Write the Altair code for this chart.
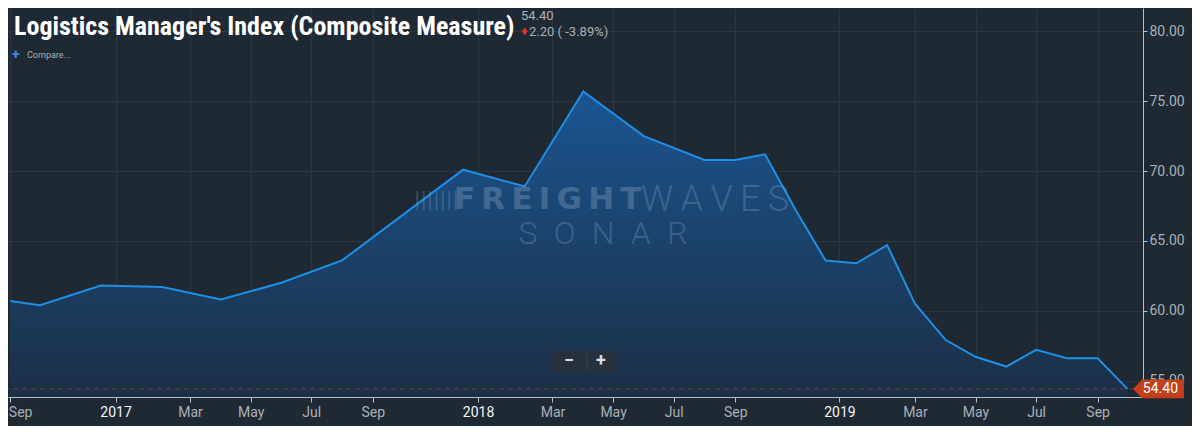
import json
import altair as alt
import pandas as pd

# ---------------- data ----------------
dates = [
    "2016-09-01", "2016-10-01", "2016-12-01", "2017-02-01", "2017-04-01",
    "2017-06-01", "2017-08-01", "2017-12-01", "2018-02-01", "2018-04-01",
    "2018-06-01", "2018-08-01", "2018-09-01", "2018-10-01", "2018-11-01",
    "2018-12-01", "2019-01-01", "2019-02-01", "2019-03-01", "2019-04-01",
    "2019-05-01", "2019-06-01", "2019-07-01", "2019-08-01", "2019-09-01",
    "2019-10-01",
]
values = [
    60.7, 60.4, 61.8, 61.7, 60.8,
    62.0, 63.6, 70.1, 68.9, 75.7,
    72.5, 70.8, 70.8, 71.2, 67.2,
    63.6, 63.4, 64.7, 60.5, 57.9,
    56.7, 56.0, 57.2, 56.6, 56.6,
    54.4,
]
tick_dates = [
    "2016-09-01", "2016-12-16", "2017-03-01", "2017-05-01", "2017-07-01",
    "2017-09-01", "2017-12-16", "2018-03-01", "2018-05-01", "2018-07-01",
    "2018-09-01", "2018-12-15", "2019-03-01", "2019-05-01", "2019-07-01",
    "2019-09-01",
]
tick_labels = [
    "Sep", "2017", "Mar", "May", "Jul",
    "Sep", "2018", "Mar", "May", "Jul",
    "Sep", "2019", "Mar", "May", "Jul",
    "Sep",
]
year_labels = ["2017", "2018", "2019"]
y_ticks = [55, 60, 65, 70, 75, 80]

title_text = "Logistics Manager's Index (Composite Measure)"
header_value = "54.40"
header_change = "2.20 ( -3.89%)"
compare_text = "Compare..."
last_label = "54.40"
wm_word1 = "FREIGHT"
wm_word2 = "WAVES"
wm_word3 = "SONAR"

# ---------------- style ----------------
BG = "#1f2933"
GRID = "#2a3642"
AXIS = "#b9bfc6"
LABEL = "#a9b0b8"
LINE = "#1f8fe5"
BADGE = "#c4401a"
W, H = 1135, 389
FONT = "Roboto"


def ms(d):
    return int(pd.Timestamp(d, tz="UTC").value // 10**6)


def spaced(word, sep):
    return sep.join(list(word))


tick_ms = [ms(d) for d in tick_dates]
year_ms = [ms(d) for d, l in zip(tick_dates, tick_labels) if l in year_labels]

x_domain = [
    alt.DateTime(year=2016, month=8, date=29, hours=16, utc=True),
    alt.DateTime(year=2019, month=10, date=16, hours=16, utc=True),
]
y_min, y_max = 53.82, 81.68

df = pd.DataFrame({"date": dates, "value": values})
last_df = df.tail(1)

label_expr = f"{json.dumps(tick_labels)}[indexof({json.dumps(tick_ms)}, +datum.value)]"
year_test = f"indexof({json.dumps(year_ms)}, +datum.value) >= 0"

x_enc = alt.X(
    "date:T",
    title=None,
    scale=alt.Scale(type="utc", domain=x_domain),
    axis=alt.Axis(
        values=tick_ms,
        labelExpr=label_expr,
        labelColor={"condition": {"test": year_test, "value": "#f2f4f6"}, "value": LABEL},
        labelFont=FONT,
        labelFontSize=14,
        labelPadding=3,
        labelFlush=5,
        labelFlushOffset=2,
        labelOverlap=False,
        domainColor=AXIS,
        domainWidth=1,
        tickColor=AXIS,
        tickSize=5,
        grid=True,
        gridColor=GRID,
        gridWidth=1,
    ),
)
y_enc = alt.Y(
    "value:Q",
    title=None,
    scale=alt.Scale(domain=[y_min, y_max], nice=False, zero=False),
    axis=alt.Axis(
        orient="right",
        values=y_ticks,
        format=".2f",
        labelFont=FONT,
        labelFontSize=14,
        labelColor=LABEL,
        labelPadding=2,
        labelFlush=False,
        domainColor=AXIS,
        tickColor=AXIS,
        tickSize=4,
        grid=True,
        gridColor=GRID,
    ),
)

gradient = alt.Gradient(
    gradient="linear",
    stops=[
        alt.GradientStop(color="#1c2f45", offset=0),
        alt.GradientStop(color="#1a5591", offset=1),
    ],
    x1=1, x2=1, y1=1, y2=0,
)

area = alt.Chart(df).mark_area(color=gradient).encode(
    x=x_enc, y=y_enc, y2=alt.datum(y_min)
)
line = alt.Chart(df).mark_line(color=LINE, strokeWidth=2).encode(
    x="date:T", y="value:Q"
)
last_rule = alt.Chart(last_df).mark_rule(
    color="#7a3a3a", strokeDash=[5, 4], strokeWidth=1
).encode(y="value:Q")

badge_path = "M-1,0 L-0.64,-0.37 L1,-0.37 L1,0.37 L-0.64,0.37 Z"
badge = alt.Chart(last_df).mark_point(
    shape=badge_path, filled=True, color=BADGE, opacity=1, size=2601, xOffset=31
).encode(x="date:T", y="value:Q")
badge_text = alt.Chart(last_df.assign(lbl=last_label)).mark_text(
    font=FONT, fontSize=14, color="#ffffff", align="center", baseline="middle", dx=33
).encode(x="date:T", y="value:Q", text="lbl:N")


def label(text, x, y, **kw):
    return alt.Chart(pd.DataFrame({"t": [text]})).mark_text(**kw).encode(
        x=alt.value(x), y=alt.value(y), text="t:N"
    )


title = label(
    title_text, 6, 27,
    font="Roboto Condensed, Liberation Sans Narrow, DejaVu Sans Condensed, Roboto",
    fontSize=26, fontWeight="bold", color="#ffffff", align="left", baseline="alphabetic",
)
hv = label(header_value, 513, 8, font=FONT, fontSize=13, color=LABEL,
           align="left", baseline="middle")
hdiamond = label("\u2666", 512, 24, font="DejaVu Sans", fontSize=10, color="#e5322b",
                 align="left", baseline="middle")
hchange = label(header_change, 521, 24, font=FONT, fontSize=13, color=LABEL,
                align="left", baseline="middle")
cplus = label("+", 4, 47, font=FONT, fontSize=14, fontWeight="bold", color="#3b8ee8",
              align="left", baseline="middle")
ctext = label(compare_text, 19, 47, font=FONT, fontSize=9, color=LABEL,
              align="left", baseline="middle")

# watermark
wm_color = "#8da7c4"
wm_bars = label("|||||||", 406, 192, font="DejaVu Sans", fontSize=19, color=wm_color,
                opacity=0.3, align="left", baseline="middle")
wm_freight = label(spaced(wm_word1, "\u2009"), 446, 192, font="DejaVu Sans", fontSize=31,
                   fontWeight="bold", color=wm_color, opacity=0.35, align="left",
                   baseline="middle")
wm_waves = label(spaced(wm_word2, "\u2009"), 633, 192, font=FONT, fontSize=36, fontWeight=300,
                 color=wm_color, opacity=0.3, align="left", baseline="middle")
wm_sonar = label(spaced(wm_word3, "\u2002"), 595, 226, font=FONT, fontSize=32,
                 fontWeight=300, color=wm_color, opacity=0.3, align="center",
                 baseline="middle")

# zoom buttons
btn_box = alt.Chart(pd.DataFrame({"a": [0]})).mark_rect(
    color="#27313c", cornerRadius=3, opacity=0.95
).encode(x=alt.value(544), x2=alt.value(609), y=alt.value(343), y2=alt.value(364))
btn_sep = alt.Chart(pd.DataFrame({"a": [0]})).mark_rule(color="#3a4450").encode(
    x=alt.value(579), y=alt.value(346), y2=alt.value(361)
)
btn_minus = label("\u2212", 561, 353, font=FONT, fontSize=18, fontWeight="bold",
                  color="#d8dde2", align="center", baseline="middle")
btn_plus = label("+", 593, 353, font=FONT, fontSize=18, fontWeight="bold",
                 color="#d8dde2", align="center", baseline="middle")

chart = alt.layer(
    area, line, last_rule,
    wm_bars, wm_freight, wm_waves, wm_sonar,
    btn_box, btn_sep, btn_minus, btn_plus,
    badge, badge_text,
    title, hv, hdiamond, hchange, cplus, ctext,
).properties(
    width=W, height=H,
    background=BG,
    autosize=alt.AutoSizeParams(type="none"),
    padding={"left": 0, "top": 0, "right": 49, "bottom": 29},
).configure_view(strokeWidth=0)

chart.save("out.html", embed_options={"renderer": "svg", "actions": False})
